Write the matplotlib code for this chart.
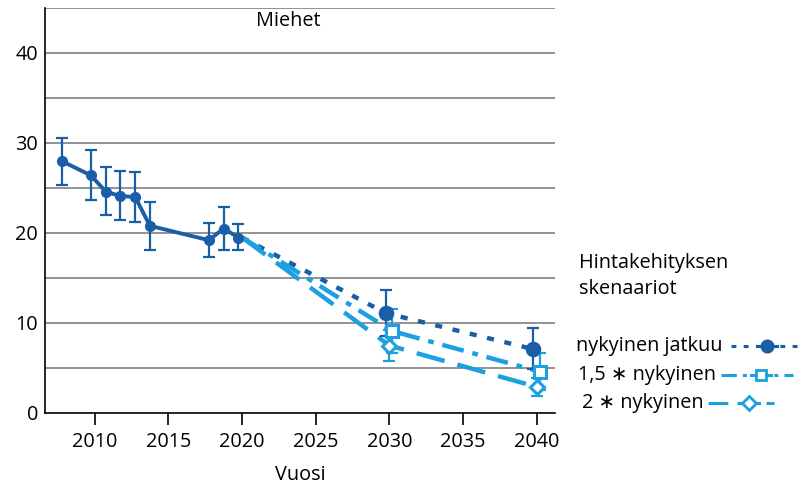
import matplotlib
matplotlib.use("Agg")
import matplotlib.pyplot as plt
from matplotlib.lines import Line2D
import numpy as np

plt.rcParams['font.family'] = ['Open Sans', 'DejaVu Sans']

# historical data
hist_years = [2008, 2010, 2011, 2012, 2013, 2014, 2018, 2019, 2020]
hist_vals = [28.0, 26.4, 24.6, 24.1, 24.0, 20.8, 19.2, 20.5, 19.5]
hist_low = [25.3, 23.7, 22.0, 21.4, 21.2, 18.1, 17.3, 18.1, 18.1]
hist_high = [30.6, 29.2, 27.3, 26.9, 26.8, 23.4, 21.1, 22.9, 21.0]

# scenarios
scen_years = [2020, 2030, 2040]
scen_labels = ["nykyinen jatkuu", "1,5 \u2217 nykyinen", "2 \u2217 nykyinen"]
scen_vals = {
    "nykyinen jatkuu": [19.5, 11.1, 7.1],
    "1,5 \u2217 nykyinen": [19.5, 9.1, 4.6],
    "2 \u2217 nykyinen": [19.5, 7.5, 2.9],
}
scen_low = {
    "nykyinen jatkuu": [None, 8.6, 4.9],
    "1,5 \u2217 nykyinen": [None, 6.7, 2.6],
    "2 \u2217 nykyinen": [None, 5.8, 1.9],
}
scen_high = {
    "nykyinen jatkuu": [None, 13.7, 9.4],
    "1,5 \u2217 nykyinen": [None, 11.6, 6.7],
    "2 \u2217 nykyinen": [None, 9.2, 3.9],
}

x_ticks = [2010, 2015, 2020, 2025, 2030, 2035, 2040]
y_ticks = [0, 10, 20, 30, 40]

DARK = "#1a5ea8"
LIGHT = "#1ca0e0"
FS = 14.3

styles = {
    "nykyinen jatkuu": dict(color=DARK, dashes=(1.6, 2.4), marker="o", ms=9, mfc=DARK, off=-0.25),
    "1,5 \u2217 nykyinen": dict(color=LIGHT, dashes=(5.0, 2.0, 1.3, 2.0), marker="s", ms=8, mfc="white", off=0.2),
    "2 \u2217 nykyinen": dict(color=LIGHT, dashes=(6.5, 3.0), marker="D", ms=7.5, mfc="white", off=0.0),
}

fig = plt.figure(figsize=(8.07, 4.88), dpi=100)
ax = fig.add_axes([45/807, 1-413/488, (555-45)/807, (413-8)/488])
ax.set_xlim(2006.63, 2041.24)
ax.set_ylim(0, 45)

for y in np.arange(5, 46, 5):
    ax.axhline(y, color="#8a8a8a", lw=1.3, zorder=0)

ax.set_xticks(x_ticks)
ax.set_yticks(y_ticks)
ax.tick_params(axis="x", length=8.5, width=1.2, direction="out", labelsize=FS, pad=5)
ax.tick_params(axis="y", length=0, labelsize=FS, pad=5)
for s in ["top", "right"]:
    ax.spines[s].set_visible(False)
ax.spines["left"].set_linewidth(1.2)
ax.spines["bottom"].set_linewidth(1.2)

# historical
hx = np.array(hist_years) - 0.25
hv = np.array(hist_vals)
ax.errorbar(hx, hv, yerr=[hv - np.array(hist_low), np.array(hist_high) - hv],
            fmt="none", ecolor=DARK, elinewidth=1.6, capsize=4, capthick=1.6, zorder=3)
ax.plot(hx, hv, color=DARK, lw=2.8, marker="o", ms=7, zorder=4)

# scenarios
for lab in scen_labels:
    st = styles[lab]
    xs = np.array(scen_years, dtype=float) + st["off"]
    xs[0] = scen_years[0]
    vals = np.array(scen_vals[lab])
    ax.plot(xs, vals, color=st["color"], lw=3.2, dashes=st["dashes"], zorder=3)
    for i in (1, 2):
        lo, hi = scen_low[lab][i], scen_high[lab][i]
        ax.errorbar([xs[i]], [vals[i]], yerr=[[vals[i]-lo], [hi-vals[i]]], fmt="none",
                    ecolor=st["color"], elinewidth=1.6, capsize=4, capthick=1.6, zorder=4)
    ax.plot(xs[1:], vals[1:], ls="none", marker=st["marker"], ms=st["ms"], mfc=st["mfc"],
            mec=st["color"], mew=2.2, zorder=5)

ax.text(0.476, 0.968, "Miehet", transform=ax.transAxes, ha="center", va="center", fontsize=FS)
ax.set_xlabel("Vuosi", fontsize=FS, labelpad=9.5)

# legend (manual, pixel coords overlay)
ov = fig.add_axes([0, 0, 1, 1], facecolor="none")
ov.set_xlim(0, 807)
ov.set_ylim(488, 0)
ov.axis("off")
ov.text(579, 263, "Hintakehityksen", fontsize=FS, va="center", ha="left")
ov.text(579, 289, "skenaariot", fontsize=FS, va="center", ha="left")

renderer = fig.canvas.get_renderer()
# (text x, y, gap after text, handle length, marker offset from handle start)
leg_rows = [(576, 346, 8, 71, 36), (578, 375, 5, 72, 40), (582, 403, 4, 66, 41)]
for lab, (tx, ty, gap, hlen, moff) in zip(scen_labels, leg_rows):
    st = styles[lab]
    t = ov.text(tx, ty, lab, fontsize=FS, va="center", ha="left")
    bb = t.get_window_extent(renderer)
    x0 = bb.x1 * 807 / fig.bbox.width + gap
    x1 = x0 + hlen
    xm = x0 + moff
    ov.add_line(Line2D([x0, x1], [ty, ty], color=st["color"], lw=2.2, dashes=st["dashes"]))
    ov.add_line(Line2D([xm - 10, xm + 10], [ty, ty], color=st["color"], lw=2.2))
    ov.add_line(Line2D([xm], [ty], ls="none", marker=st["marker"], ms=st["ms"] * 0.9,
                       mfc=st["mfc"], mec=st["color"], mew=2.0))

fig.savefig("out.png", dpi=100)
